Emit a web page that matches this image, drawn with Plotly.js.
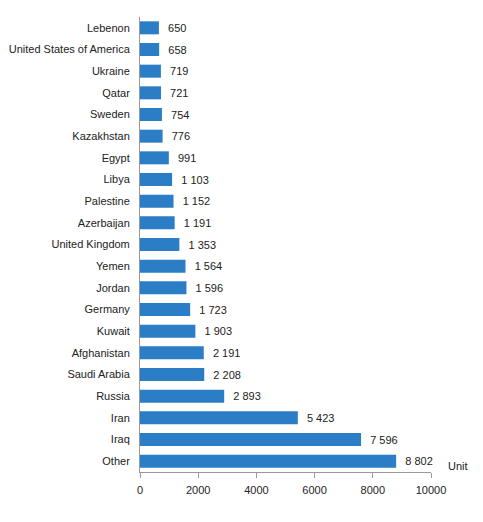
<!DOCTYPE html>
<html><head><meta charset="utf-8">
<script src="https://cdn.plot.ly/plotly-3.0.1.min.js"></script>
<style>html,body{margin:0;padding:0;background:#fff}#chart{width:483px;height:522px}</style>
</head><body><div id="chart"></div>
<script>
var categories = ["Lebenon","United States of America","Ukraine","Qatar","Sweden","Kazakhstan","Egypt","Libya","Palestine","Azerbaijan","United Kingdom","Yemen","Jordan","Germany","Kuwait","Afghanistan","Saudi Arabia","Russia","Iran","Iraq","Other"];
var values = [650,658,719,721,754,776,991,1103,1152,1191,1353,1564,1596,1723,1903,2191,2208,2893,5423,7596,8802];
var xTicks = [0,2000,4000,6000,8000,10000];
var unitLabel = "Unit";

var trace = {
  type: 'bar', orientation: 'h',
  x: values, y: categories,
  marker: {color: '#2B7DC6'},
  width: 0.6,
  texttemplate: '\u00a0\u00a0%{x:,}',
  textposition: 'outside',
  cliponaxis: false,
  textfont: {family: 'Liberation Sans, Arial, sans-serif', size: 11, color: '#222'},
  hoverinfo: 'none'
};
var layout = {
  width: 483, height: 522,
  margin: {l: 140, r: 52, t: 17, b: 50},
  separators: '. ',
  paper_bgcolor: '#fff', plot_bgcolor: '#fff',
  showlegend: false,
  font: {family: 'Liberation Sans, Arial, sans-serif', size: 11, color: '#222'},
  xaxis: {
    range: [0, 10000], tickvals: xTicks, tickformat: 'd',
    showgrid: false, zeroline: false,
    showline: true, linecolor: '#999', linewidth: 1,
    ticks: 'outside', ticklen: 5, tickcolor: '#999',
    ticklabelstandoff: 3,
    tickfont: {size: 11, color: '#222'}, fixedrange: true
  },
  yaxis: {
    autorange: 'reversed', type: 'category',
    showgrid: false, zeroline: false,
    showline: true, linecolor: '#999', linewidth: 1,
    ticks: '', ticklen: 0,
    ticklabelstandoff: 7,
    tickfont: {size: 11, color: '#222'}, fixedrange: true
  },
  annotations: [{
    text: unitLabel, xref: 'paper', yref: 'paper', x: 1, y: 0,
    xanchor: 'left', yanchor: 'middle', xshift: 15, yshift: 6,
    showarrow: false, font: {size: 11, color: '#222'}
  }],
  bargap: 0.4
};
Plotly.newPlot('chart', [trace], layout, {displayModeBar: false, staticPlot: true});
</script></body></html>
